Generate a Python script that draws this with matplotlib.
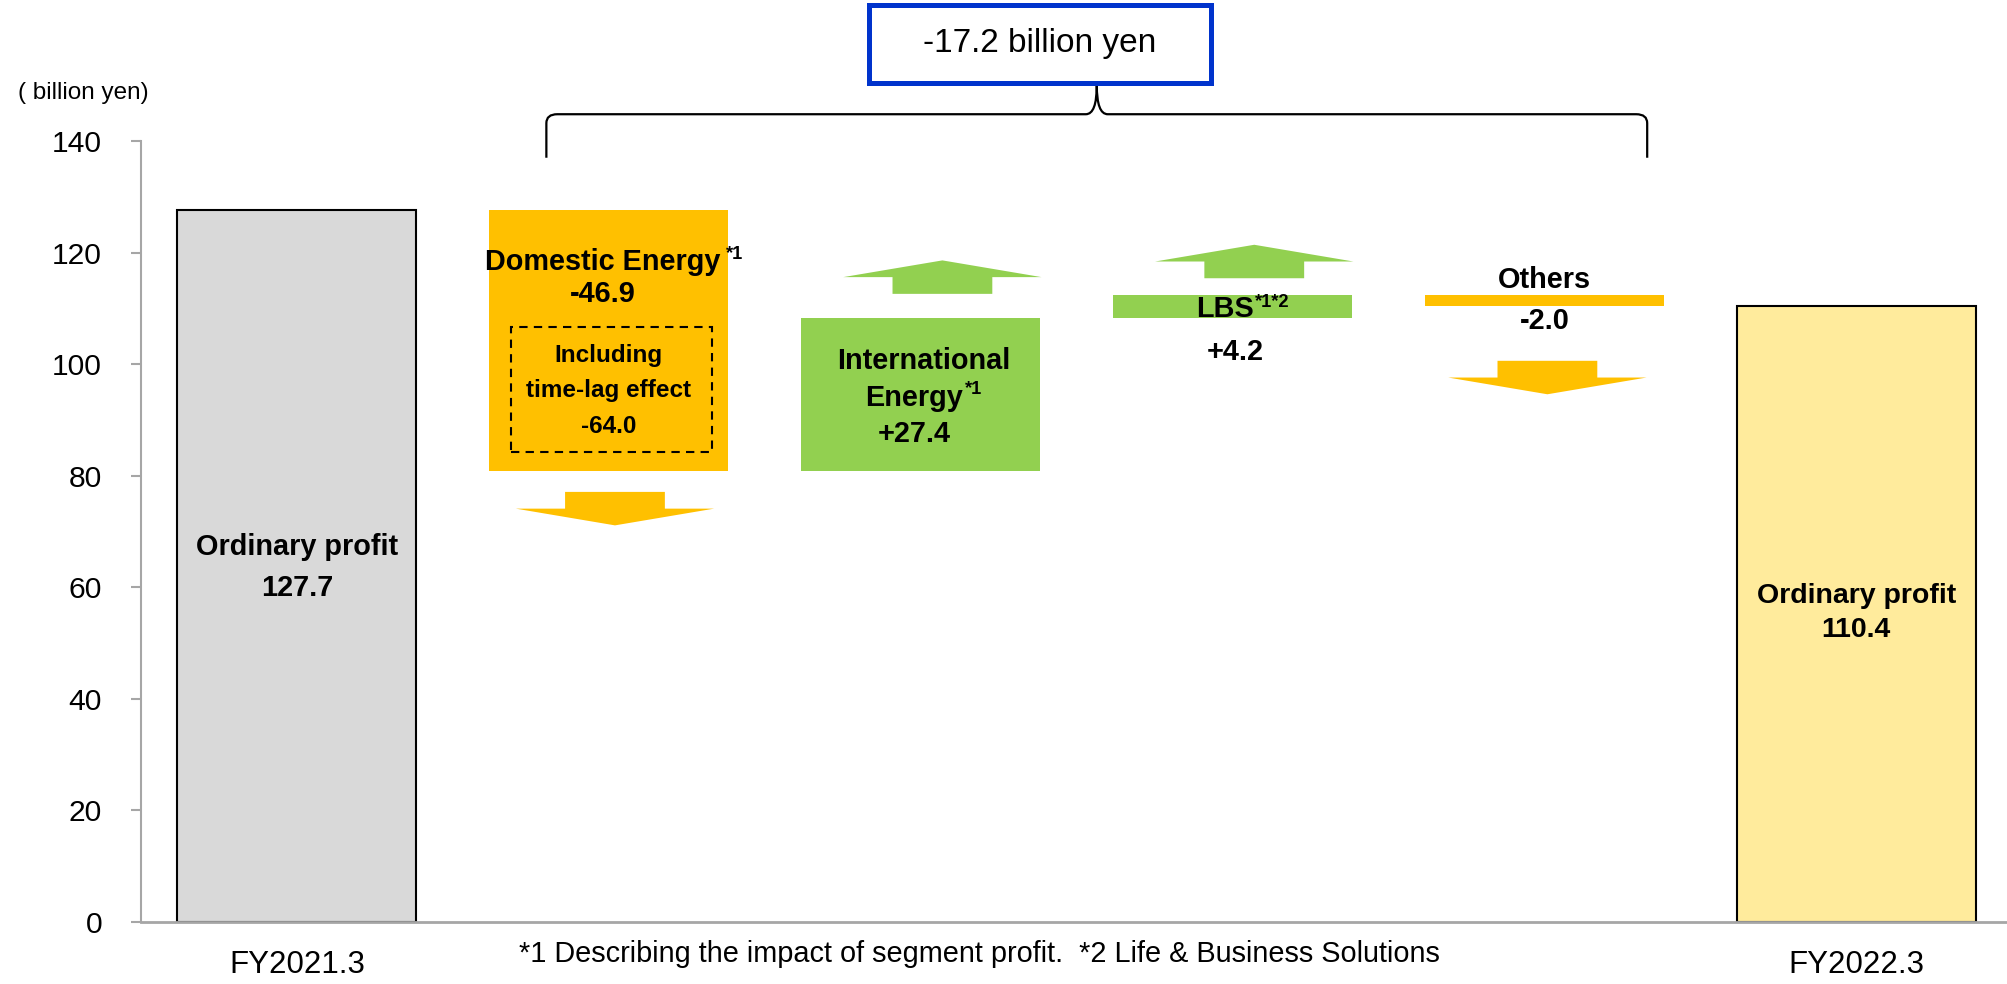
import matplotlib
matplotlib.use('Agg')
import matplotlib.pyplot as plt
from matplotlib import font_manager
from matplotlib.patches import Rectangle, Polygon, PathPatch
from matplotlib.path import Path

names = {f.name for f in font_manager.fontManager.ttflist}
HAS_NARROW = 'Liberation Sans Narrow' in names
NARROW = 'Liberation Sans Narrow' if HAS_NARROW else 'Liberation Sans'
REG = 'Liberation Sans'
# plain Liberation Sans is wider than the narrow face, so shrink it to keep widths
K = 1.0 if HAS_NARROW else 0.83

# data
start_label = 'FY2021.3'
end_label = 'FY2022.3'
start_value = 127.7
end_value = 110.4
segments = ['Domestic Energy', 'International Energy', 'LBS', 'Others']
changes = [-46.9, 27.4, 4.2, -2.0]
timelag_value = -64.0
total_change = -17.2
yticks = [0, 20, 40, 60, 80, 100, 120, 140]

C_NEG = '#FFC000'
C_POS = '#92D050'
C_START = '#D9D9D9'
C_END = '#FFEB9C'
AX_GRAY = '#A6A6A6'
W = 0.767

fig = plt.figure(figsize=(20.08, 9.84), dpi=100)
ax = fig.add_axes([0.0702, 0.063, 0.9298, 0.7937])
ax.set_xlim(-0.5, 5.487)
ax.set_ylim(0, 140)

# start / end bars
ax.bar(0, start_value, width=W, color=C_START, edgecolor='black', linewidth=1.5, zorder=2)
ax.bar(5, end_value, width=W, color=C_END, edgecolor='black', linewidth=1.5, zorder=2)

# floating change bars
level = start_value
tops, bottoms = [], []
for i, ch in enumerate(changes):
    new = level + ch
    lo, hi = min(level, new), max(level, new)
    ax.bar(i + 1, hi - lo, bottom=lo, width=W,
           color=C_POS if ch > 0 else C_NEG, linewidth=0, zorder=2)
    tops.append(hi)
    bottoms.append(lo)
    level = new

# block arrows next to each change bar
arrow_gap = [3.7, 4.4, 3.0, 9.8]
arrow_dx = [0.02, 0.07, 0.07, 0.01]
seg_h = 3.0
for i, ch in enumerate(changes):
    xc = i + 1 + arrow_dx[i]
    if ch > 0:
        d, y0 = 1, tops[i] + arrow_gap[i]
    else:
        d, y0 = -1, bottoms[i] - arrow_gap[i]
    y1 = y0 + d * seg_h
    y2 = y1 + d * seg_h
    sw, hw = 0.16, 0.318
    pts = [(xc - sw, y0), (xc + sw, y0), (xc + sw, y1), (xc + hw, y1),
           (xc, y2), (xc - hw, y1), (xc - sw, y1)]
    ax.add_patch(Polygon(pts, closed=True, color=C_POS if ch > 0 else C_NEG,
                         linewidth=0, zorder=2))

bold = dict(family=NARROW, fontweight='bold', ha='center', va='center', zorder=5)
BIG = 25 * K


def sup(artist, s, dx=2, dy=0):
    ax.annotate(s, xy=(1, 1), xycoords=artist, xytext=(dx, dy),
                textcoords='offset points', ha='left', va='top',
                fontsize=16 * K, family=NARROW, fontweight='bold', zorder=5)


# start / end labels
ax.text(0, 67.2, 'Ordinary profit', fontsize=25 * K, **bold)
ax.text(0, 59.9, f'{start_value:.1f}', fontsize=25 * K, **bold)
ax.text(5, 58.5, 'Ordinary profit', fontsize=20.5, family=REG, fontweight='bold',
        ha='center', va='center', zorder=5)
ax.text(5, 52.3, f'{end_value:.1f}', fontsize=20.5, family=REG, fontweight='bold',
        ha='center', va='center', zorder=5)

# Domestic Energy
t = ax.text(0.98, 118.4, segments[0], fontsize=BIG, **bold)
sup(t, '*1', 4, 1)
ax.text(0.98, 112.6, f'{changes[0]:+.1f}', fontsize=BIG, **bold)
ax.add_patch(Rectangle((1 - 0.314, 84.3), 0.644, 22.3, fill=False,
                       edgecolor='black', linewidth=1.5, linestyle=(0, (4, 3)),
                       zorder=4))
for yv, s in zip([101.5, 95.3, 88.8],
                 ['Including', 'time-lag effect', f'{timelag_value:.1f}']):
    ax.text(1.0, yv, s, fontsize=21 * K, **bold)

# International Energy
ax.text(2.01, 100.6, 'International', fontsize=BIG, **bold)
t = ax.text(1.98, 93.9, 'Energy', fontsize=BIG, **bold)
sup(t, '*1', 1, 2)
ax.text(1.98, 87.5, f'{changes[1]:+.1f}', fontsize=BIG, **bold)

# LBS
t = ax.text(2.975, 109.8, segments[2], fontsize=BIG, **bold)
sup(t, '*1*2', 1, 1)
ax.text(3.01, 102.2, f'{changes[2]:+.1f}', fontsize=BIG, **bold)

# Others
ax.text(4.0, 115.1, segments[3], fontsize=BIG, **bold)
ax.text(4.0, 107.8, f'{changes[3]:+.1f}', fontsize=BIG, **bold)

# brace + total box above the plot
bx0, bx1, by_b, by_h, by_t = 0.80, 4.33, 137.0, 144.8, 150.0
xm = (bx0 + bx1) / 2
rx, ry = 0.035, 1.6
verts = [(bx0, by_b), (bx0, by_h - ry), (bx0, by_h), (bx0 + rx, by_h),
         (xm - rx, by_h), (xm, by_h), (xm, by_t),
         (xm, by_h), (xm + rx, by_h),
         (bx1 - rx, by_h), (bx1, by_h), (bx1, by_h - ry), (bx1, by_b)]
codes = [Path.MOVETO, Path.LINETO, Path.CURVE3, Path.CURVE3,
         Path.LINETO, Path.CURVE3, Path.CURVE3,
         Path.CURVE3, Path.CURVE3,
         Path.LINETO, Path.CURVE3, Path.CURVE3, Path.LINETO]
ax.add_patch(PathPatch(Path(verts, codes), fill=False, edgecolor='black',
                       linewidth=1.6, clip_on=False, zorder=3))
ax.add_patch(Rectangle((1.835, 150.4), 1.096, 14.0, facecolor='white',
                       edgecolor='#0033CC', linewidth=3.6, clip_on=False,
                       zorder=4))
ax.text(2.383, 157.4, f'{total_change:.1f} billion yen', fontsize=29 * K,
        family=NARROW, ha='center', va='center', clip_on=False, zorder=5)

# axes styling
for s in ['top', 'right']:
    ax.spines[s].set_visible(False)
ax.spines['left'].set_color(AX_GRAY)
ax.spines['left'].set_linewidth(1.5)
ax.spines['bottom'].set_color(AX_GRAY)
ax.spines['bottom'].set_linewidth(2)
ax.set_yticks(yticks)
ax.set_yticklabels([str(v) for v in yticks], family=NARROW, fontsize=26 * K)
ax.tick_params(axis='y', direction='out', length=7, width=1.5,
               color=AX_GRAY, pad=21)
ax.set_xticks([0, 5])
ax.set_xticklabels([start_label, end_label], family=REG, fontsize=22.5)
ax.tick_params(axis='x', length=0, pad=20)

fig.text(83 / 2008, 1 - 93 / 984, '( billion yen)', family=NARROW, fontsize=21 * K,
         ha='center', va='center')
fig.text(979 / 2008, 1 - 954 / 984,
         '*1 Describing the impact of segment profit.  *2 Life & Business Solutions',
         family=NARROW, fontsize=25 * K, ha='center', va='center')

fig.savefig('out.png', dpi=100)
